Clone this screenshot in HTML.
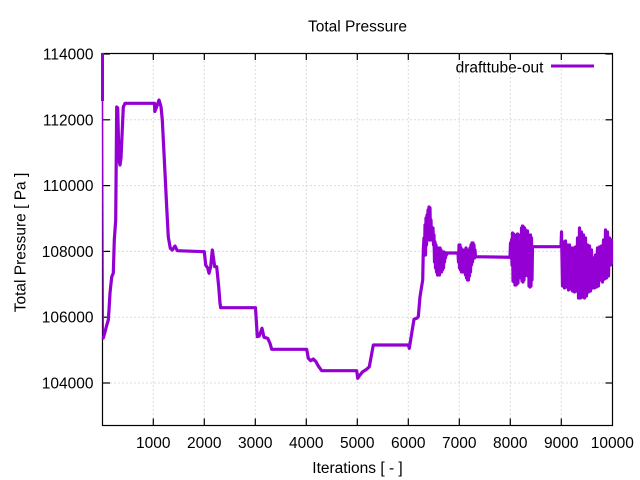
<!DOCTYPE html>
<html><head><meta charset="utf-8"><style>
html,body{margin:0;padding:0;background:#fff;}
svg{display:block;font-family:"Liberation Sans",Arial,sans-serif;}
</style></head><body>
<svg width="640" height="480" viewBox="0 0 640 480" xmlns="http://www.w3.org/2000/svg">
<rect width="640" height="480" fill="#fff"/>
<defs><clipPath id="c"><rect x="101" y="53" width="512" height="373"/></clipPath></defs>
<!-- grid -->
<g stroke="#b8b8b8" stroke-width="1" stroke-dasharray="1,3" fill="none">
<line x1="153.3" y1="53.5" x2="153.3" y2="425"/>
<line x1="204.3" y1="53.5" x2="204.3" y2="425"/>
<line x1="255.3" y1="53.5" x2="255.3" y2="425"/>
<line x1="306.3" y1="53.5" x2="306.3" y2="425"/>
<line x1="357.3" y1="53.5" x2="357.3" y2="425"/>
<line x1="408.3" y1="53.5" x2="408.3" y2="425"/>
<line x1="459.3" y1="53.5" x2="459.3" y2="425"/>
<line x1="510.3" y1="53.5" x2="510.3" y2="425"/>
<line x1="561.3" y1="53.5" x2="561.3" y2="425"/>
<line x1="102.5" y1="383" x2="612" y2="383"/>
<line x1="102.5" y1="317.2" x2="612" y2="317.2"/>
<line x1="102.5" y1="251.4" x2="612" y2="251.4"/>
<line x1="102.5" y1="185.6" x2="612" y2="185.6"/>
<line x1="102.5" y1="119.8" x2="612" y2="119.8"/>
</g>
<!-- border -->
<rect x="102.5" y="53.5" width="510" height="372" fill="none" stroke="#000" stroke-width="1.2"/>
<!-- ticks -->
<g stroke="#000" stroke-width="1.2">
<line x1="153.3" y1="425.5" x2="153.3" y2="418.5"/><line x1="153.3" y1="53.5" x2="153.3" y2="60"/>
<line x1="204.3" y1="425.5" x2="204.3" y2="418.5"/><line x1="204.3" y1="53.5" x2="204.3" y2="60"/>
<line x1="255.3" y1="425.5" x2="255.3" y2="418.5"/><line x1="255.3" y1="53.5" x2="255.3" y2="60"/>
<line x1="306.3" y1="425.5" x2="306.3" y2="418.5"/><line x1="306.3" y1="53.5" x2="306.3" y2="60"/>
<line x1="357.3" y1="425.5" x2="357.3" y2="418.5"/><line x1="357.3" y1="53.5" x2="357.3" y2="60"/>
<line x1="408.3" y1="425.5" x2="408.3" y2="418.5"/><line x1="408.3" y1="53.5" x2="408.3" y2="60"/>
<line x1="459.3" y1="425.5" x2="459.3" y2="418.5"/><line x1="459.3" y1="53.5" x2="459.3" y2="60"/>
<line x1="510.3" y1="425.5" x2="510.3" y2="418.5"/><line x1="510.3" y1="53.5" x2="510.3" y2="60"/>
<line x1="561.3" y1="425.5" x2="561.3" y2="418.5"/><line x1="561.3" y1="53.5" x2="561.3" y2="60"/>
<line x1="102.5" y1="383" x2="110" y2="383"/><line x1="612.5" y1="383" x2="605.5" y2="383"/>
<line x1="102.5" y1="317.2" x2="110" y2="317.2"/><line x1="612.5" y1="317.2" x2="605.5" y2="317.2"/>
<line x1="102.5" y1="251.4" x2="110" y2="251.4"/><line x1="612.5" y1="251.4" x2="605.5" y2="251.4"/>
<line x1="102.5" y1="185.6" x2="110" y2="185.6"/><line x1="612.5" y1="185.6" x2="605.5" y2="185.6"/>
<line x1="102.5" y1="119.8" x2="110" y2="119.8"/><line x1="612.5" y1="119.8" x2="605.5" y2="119.8"/>
<line x1="102.5" y1="54" x2="110" y2="54"/><line x1="612.5" y1="54" x2="605.5" y2="54"/>
</g>
<!-- tick labels -->
<g font-size="15.5" fill="#000" text-anchor="end">
<text x="93.5" y="59.5">114000</text>
<text x="93.5" y="125.3">112000</text>
<text x="93.5" y="191.1">110000</text>
<text x="93.5" y="256.9">108000</text>
<text x="93.5" y="322.7">106000</text>
<text x="93.5" y="388.5">104000</text>
</g>
<g font-size="15.5" fill="#000" text-anchor="middle">
<text x="153.3" y="448">1000</text>
<text x="204.3" y="448">2000</text>
<text x="255.3" y="448">3000</text>
<text x="306.3" y="448">4000</text>
<text x="357.3" y="448">5000</text>
<text x="408.3" y="448">6000</text>
<text x="459.3" y="448">7000</text>
<text x="510.3" y="448">8000</text>
<text x="561.3" y="448">9000</text>
<text x="612.3" y="448">10000</text>
<text x="357.5" y="31.5">Total Pressure</text>
<text x="357.5" y="473">Iterations [ - ]</text>
<text x="25.5" y="242.5" transform="rotate(-90 25.5 242.5)">Total Pressure [ Pa ]</text>
</g>
<!-- legend -->
<text x="543.5" y="72.5" font-size="15.5" text-anchor="end" fill="#000">drafttube-out</text>
<line x1="551" y1="66" x2="594" y2="66" stroke="#9400d3" stroke-width="3"/>
<!-- data -->
<g clip-path="url(#c)">
<line x1="102.4" y1="30" x2="102.4" y2="101" stroke="#9400d3" stroke-width="3.2"/>
<line x1="102.5" y1="100" x2="103.3" y2="338" stroke="#9400d3" stroke-width="1.4"/>
<polyline fill="none" stroke="#9400d3" stroke-width="3.2" stroke-linejoin="round" stroke-linecap="round" points="
103.3,338 105,332 106.5,326 108.3,320 109,310 110,293 111.7,277 113.3,273 114.3,240 115.7,220 116.7,107 117.7,108 119,160 120,165 121,158 123.3,107 125,103.3 154.5,103.3 154.8,111.5 156.7,106.7 159,100 161,106.7 162.3,120 165,173 166.7,207 168.3,237 170.3,248.3 172.3,250 175,246 177.3,250.7 204.3,251.7 205.7,265 207.7,268 209,273.3 210.7,266.7 212.3,250 213.3,256.7 214.7,266.7 216.7,266.7 218.7,286.7 220,303.3 220.7,307.7 255.5,307.7 257.3,336.7 259.3,336 262,328.3 264,337.3 267.7,338.3 270,343.3 271.7,349.3 306.7,349.3 308.3,358.3 310.7,360.7 313.3,359 316,361.7 318.3,366 321.7,370.7 356.7,370.7 357.7,378.3 360,375 362.7,371.7 366.7,369.3 369.3,366.7 373.3,345 408.3,345 409.3,348.3 411.7,333.3 414,319.3 416.7,318.3 418.3,316.7 420,296.7 422.7,280 423.3,250
424,238 424.5,255 425,225 425.5,255 426,218 426.5,245 427,215 427.5,240 428,210 428.5,238 429,207 429.5,240 430,208 430.5,240 431,220 431.5,238 432,228 432.5,240 433,228 433.5,245 434,235 434.5,262 435,242 435.5,268 436,245 436.5,272 437,248 437.5,275 438,248 438.5,273 439,250 439.5,275 440,248 440.5,272 441,250 441.5,272 442,252 442.5,270 443,252 443.5,268 444,252 444.5,262 445,253 445.5,258 446,253 446.5,255 447,253 458,253
458.5,262 459,245 459.5,268 460,245 460.5,270 461,248 461.5,272 462,250 462.5,270 463,250 463.5,272 464,252 464.5,272 465,250 465.5,275 466,248 466.5,278 467,250 467.5,280 468,252 468.5,280 469,250 469.5,276 470,248 470.5,272 471,245 471.5,265 472,243 472.5,262 473,243 473.5,258 474,245 474.5,258 475,250 475.5,257 476,256.7 510,257.3
510.5,243 511,258 511.5,240 512,265 512.5,233 513,281 513.5,234 514,282 514.5,235 515,285 515.5,236 516,285 516.5,237 517,284 517.5,234 518,283 518.5,235 519,278 519.5,236 520,276 520.5,235 521,278 521.5,228 522,281 522.5,226 523,282 523.5,227 524,280 524.5,228 525,276 525.5,230 526,275 526.5,232 527,274 527.5,231 528,276 528.5,235 529,286 529.5,236 530,287 530.5,235 531,286 531.5,238 532,280 532.5,246.7 561,246.7
561.5,232 562.5,286 563.5,242 564.5,288 565.5,241 566.5,287 567.5,245 568.5,290 569.5,245 570.5,289 571.5,248 572.5,291 573.5,248 574.5,292 575.5,247 576.5,291 577.5,238 578.5,298 579.5,228 580.5,298 581.5,232 582.5,297 583.5,235 584.5,298 585.5,238 586.5,296 587.5,245 588.5,292 589.5,246 590.5,291 591.5,250 592.5,288 593.5,258 594.5,288 595.5,255 596.5,287 597.5,248 598.5,286 599.5,247 600.5,280 601.5,246 602.5,282 603.5,240 604.5,279 605.5,230 606.5,278 607.5,232 608.5,276 609.5,238 610.5,265 611.5,240 612,263"/>
</g>
</svg>
</body></html>
